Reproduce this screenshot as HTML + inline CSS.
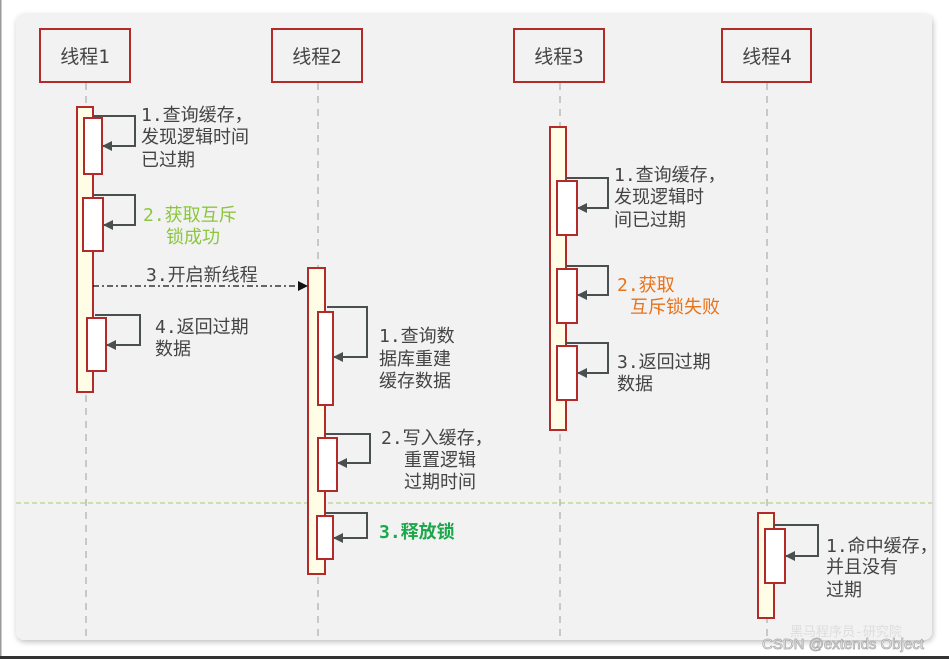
<!DOCTYPE html>
<html><head><meta charset="utf-8"><style>
html,body{margin:0;padding:0;background:#fff;width:949px;height:659px;overflow:hidden}
svg{position:absolute;left:0;top:0}
text{font-family:"DejaVu Sans Mono","Noto Sans CJK SC",monospace;font-size:18px;fill:#444}
</style></head><body>
<svg width="949" height="659" viewBox="0 0 949 659">
<defs>
<filter id="sh" x="-5%" y="-5%" width="110%" height="110%"><feDropShadow dx="1" dy="2" stdDeviation="3" flood-color="#000" flood-opacity="0.25"/></filter>
<marker id="ah" markerWidth="10" markerHeight="10" refX="9" refY="5" orient="auto" markerUnits="userSpaceOnUse"><path d="M0,0 L10,5 L0,10 z" fill="#4a5050"/></marker>
<marker id="ab" markerWidth="10" markerHeight="10" refX="9" refY="5" orient="auto" markerUnits="userSpaceOnUse"><path d="M0,0 L10,5 L0,10 z" fill="#111"/></marker>
</defs>
<rect x="0" y="0" width="1.5" height="659" fill="#999"/>
<rect x="0" y="656" width="949" height="3" fill="#333"/>
<rect x="16" y="14" width="916" height="626" rx="8" fill="#f2f2f2" filter="url(#sh)"/>
<g stroke="#c8c8c8" stroke-width="2" stroke-dasharray="7,6">
<line x1="86" y1="83" x2="86" y2="640"/><line x1="318" y1="83" x2="318" y2="640"/>
<line x1="560" y1="83" x2="560" y2="640"/><line x1="767" y1="83" x2="767" y2="640"/>
</g>
<line x1="16" y1="503" x2="932" y2="503" stroke="#a8cc70" stroke-width="1" stroke-dasharray="5,3"/>
<g fill="#f2f2f2" stroke="#b22a2a" stroke-width="2">
<rect x="40" y="29" width="90" height="53"/><rect x="272" y="29" width="90" height="53"/>
<rect x="514" y="29" width="90" height="53"/><rect x="722" y="29" width="89" height="53"/>
</g>
<g><text x="85" y="63" text-anchor="middle" style="font-size:19px">线程1</text>
<text x="317" y="63" text-anchor="middle" style="font-size:19px">线程2</text>
<text x="559" y="63" text-anchor="middle" style="font-size:19px">线程3</text>
<text x="767" y="63" text-anchor="middle" style="font-size:19px">线程4</text></g>
<g fill="#fffde6" stroke="#b22a2a" stroke-width="2">
<rect x="77" y="107" width="16" height="285"/><rect x="308" y="268" width="17" height="306"/>
<rect x="550" y="127" width="16" height="303"/><rect x="758" y="513" width="16" height="105"/>
</g>
<g fill="#fff" stroke="#b22a2a" stroke-width="2">
<rect x="84" y="118" width="18" height="56"/><rect x="83" y="198" width="20" height="53"/><rect x="87" y="318" width="19" height="53"/>
<rect x="318" y="312" width="15" height="93"/><rect x="318" y="438" width="19" height="53"/><rect x="317" y="516" width="16" height="43"/>
<rect x="557" y="181" width="20" height="54"/><rect x="557" y="269" width="20" height="54"/><rect x="557" y="346" width="20" height="54"/>
<rect x="765" y="529" width="20" height="54"/>
</g>
<g fill="none" stroke="#4a5050" stroke-width="2" marker-end="url(#ah)">
<path d="M93,116 H135 V146 H103"/><path d="M93,195 H135 V225 H104"/><path d="M95,315 H140 V345 H107"/>
<path d="M327,307 H367 V357 H334"/><path d="M325,434 H370 V463 H338"/><path d="M325,513 H367 V538 H334"/>
<path d="M566,178 H608 V208 H578"/><path d="M566,266 H608 V295 H578"/><path d="M566,343 H608 V373 H578"/>
<path d="M774,525 H818 V556 H786"/>
</g>
<line x1="93" y1="286" x2="307" y2="286" stroke="#111" stroke-width="1.3" stroke-dasharray="6,3,2,3" marker-end="url(#ab)"/>
<text x="141" y="121">1.查询缓存，</text><text x="141" y="143">发现逻辑时间</text><text x="141" y="166">已过期</text>
<text x="143" y="221" style="fill:#8cc63f">2.获取互斥</text><text x="166" y="243" style="fill:#8cc63f">锁成功</text>
<text x="146" y="281">3.开启新线程</text>
<text x="155" y="333">4.返回过期</text><text x="155" y="355">数据</text>
<text x="379" y="342">1.查询数</text><text x="379" y="365">据库重建</text><text x="379" y="387">缓存数据</text>
<text x="381" y="444">2.写入缓存，</text><text x="404" y="466">重置逻辑</text><text x="404" y="488">过期时间</text>
<text x="379" y="538" style="fill:#1aa84a;font-weight:bold">3.释放锁</text>
<text x="614" y="181">1.查询缓存，</text><text x="614" y="203">发现逻辑时</text><text x="614" y="226">间已过期</text>
<text x="617" y="291" style="fill:#e8731a">2.获取</text><text x="630" y="313" style="fill:#e8731a">互斥锁失败</text>
<text x="617" y="368">3.返回过期</text><text x="617" y="390">数据</text>
<text x="826" y="552">1.命中缓存，</text><text x="826" y="573">并且没有</text><text x="826" y="596">过期</text>
<text x="790" y="636" style="font-size:13px;fill:#ddd">黑马程序员-研究院</text>
<text x="762" y="649" style="font-size:15px;fill:#fff;stroke:#aaa;stroke-width:0.8;font-family:'Liberation Sans',sans-serif">CSDN @extends Object</text>
</svg>
</body></html>
